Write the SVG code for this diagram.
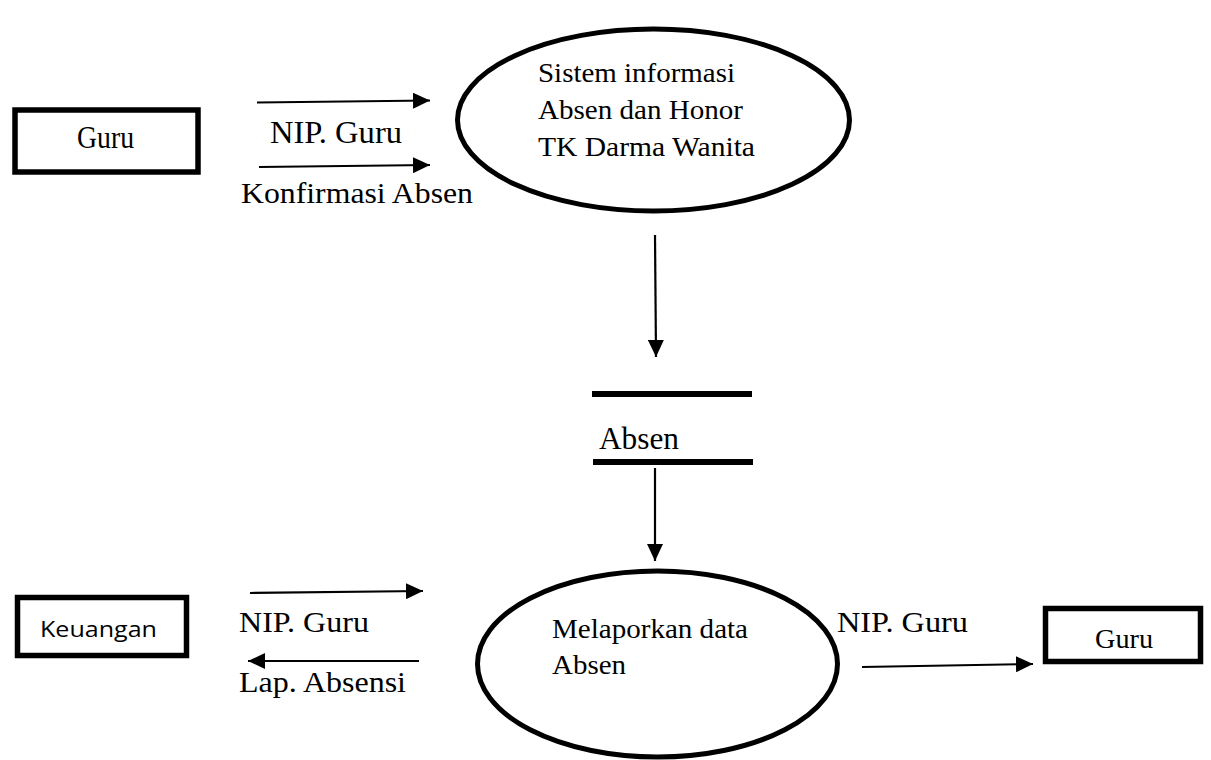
<svg xmlns="http://www.w3.org/2000/svg" width="1211" height="760" viewBox="0 0 1211 760">
<defs>
<style>
.box{fill:#fff;stroke:#000;stroke-width:5.5}
.proc{fill:none;stroke:#000;stroke-width:5}
.store{stroke:#000;stroke-width:6}
.flow{stroke:#000;stroke-width:2.2;fill:none;marker-end:url(#arr)}
.t{font-family:"Liberation Serif","Times New Roman",serif;fill:#000}
.s{font-family:"Open Sans","Noto Sans",sans-serif;fill:#000}
</style>
<marker id="arr" markerUnits="userSpaceOnUse" markerWidth="18" markerHeight="16" refX="17" refY="8" orient="auto">
<path d="M0,0 L17,8 L0,16 Z" fill="#000"/>
</marker>
</defs>
<rect width="1211" height="760" fill="#fff"/>
<g id="guru-top">
<rect class="box" x="15" y="110" width="183" height="62"/>
<text class="t" x="77" y="148" font-size="31" textLength="57" lengthAdjust="spacingAndGlyphs">Guru</text>
</g>
<g id="proc-sistem">
<ellipse class="proc" cx="653.5" cy="120" rx="196" ry="91"/>
<text class="t" x="538" y="82" font-size="28" textLength="197" lengthAdjust="spacingAndGlyphs">Sistem informasi</text>
<text class="t" x="538" y="119" font-size="28" textLength="205" lengthAdjust="spacingAndGlyphs">Absen dan Honor</text>
<text class="t" x="538" y="156" font-size="28" textLength="217" lengthAdjust="spacingAndGlyphs">TK Darma Wanita</text>
</g>
<g id="store-absen">
<line class="store" x1="592" y1="394" x2="752" y2="394"/>
<line class="store" x1="593" y1="462" x2="753" y2="462"/>
<text class="t" x="599" y="449" font-size="31" textLength="80" lengthAdjust="spacingAndGlyphs">Absen</text>
</g>
<g id="keuangan">
<rect class="box" x="17.5" y="597.5" width="169" height="58"/>
<text class="s" x="40" y="637" font-size="21" textLength="117" lengthAdjust="spacingAndGlyphs">Keuangan</text>
</g>
<g id="proc-melaporkan">
<ellipse class="proc" cx="657.5" cy="664" rx="180" ry="93"/>
<text class="t" x="552" y="638" font-size="27" textLength="196" lengthAdjust="spacingAndGlyphs">Melaporkan data</text>
<text class="t" x="552" y="674" font-size="27" textLength="74" lengthAdjust="spacingAndGlyphs">Absen</text>
</g>
<g id="guru-right">
<rect class="box" x="1045.5" y="608.5" width="155" height="53"/>
<text class="t" x="1095" y="648" font-size="28" textLength="58" lengthAdjust="spacingAndGlyphs">Guru</text>
</g>
<g id="connectors">
<line class="flow" x1="257" y1="102.5" x2="430" y2="100.5"/>
<line class="flow" x1="259" y1="167" x2="430" y2="165"/>
<line class="flow" x1="655" y1="235" x2="656" y2="357"/>
<line class="flow" x1="655" y1="468" x2="655" y2="561"/>
<line class="flow" x1="250" y1="593" x2="423" y2="591"/>
<line class="flow" x1="419" y1="661" x2="248" y2="661"/>
<line class="flow" x1="862" y1="667" x2="1033" y2="664"/>
</g>
<g id="labels">
<text class="t" x="270" y="143" font-size="31" textLength="132" lengthAdjust="spacingAndGlyphs">NIP. Guru</text>
<text class="t" x="241" y="203" font-size="30" textLength="232" lengthAdjust="spacingAndGlyphs">Konfirmasi Absen</text>
<text class="t" x="239" y="632" font-size="30" textLength="130" lengthAdjust="spacingAndGlyphs">NIP. Guru</text>
<text class="t" x="239" y="692" font-size="30" textLength="167" lengthAdjust="spacingAndGlyphs">Lap. Absensi</text>
<text class="t" x="837" y="632" font-size="30" textLength="131" lengthAdjust="spacingAndGlyphs">NIP. Guru</text>
</g>
</svg>
